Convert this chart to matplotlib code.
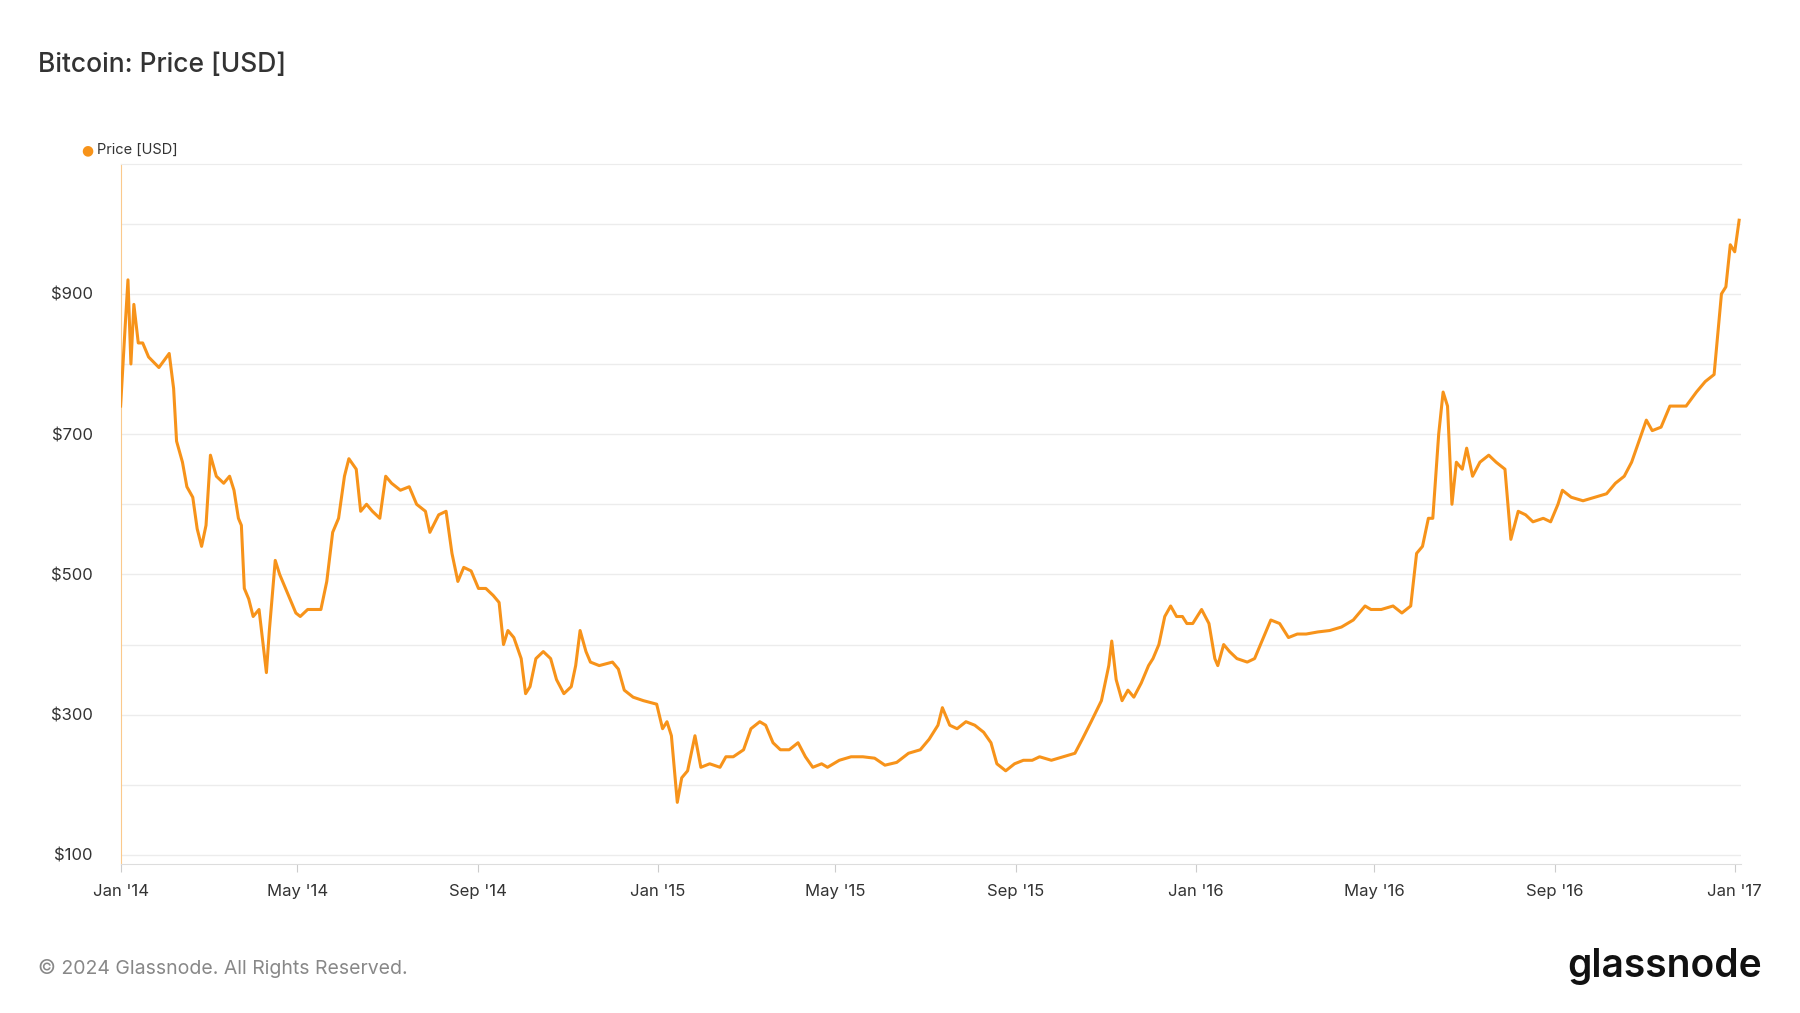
import matplotlib

matplotlib.use("Agg")
import matplotlib.pyplot as plt
import matplotlib.dates as mdates
import pandas as pd

plt.rcParams["font.family"] = ["Inter", "DejaVu Sans"]

dates = [
    "2014-01-01", "2014-01-04", "2014-01-06", "2014-01-08", "2014-01-10", "2014-01-13",
    "2014-01-16", "2014-01-20", "2014-01-27", "2014-02-03", "2014-02-06", "2014-02-08",
    "2014-02-12", "2014-02-15", "2014-02-19", "2014-02-22", "2014-02-25", "2014-02-28",
    "2014-03-03", "2014-03-07", "2014-03-12", "2014-03-16", "2014-03-19", "2014-03-22",
    "2014-03-24", "2014-03-26", "2014-03-29", "2014-04-01", "2014-04-05", "2014-04-10",
    "2014-04-12", "2014-04-16", "2014-04-19", "2014-04-25", "2014-04-30", "2014-05-03",
    "2014-05-08", "2014-05-17", "2014-05-21", "2014-05-25", "2014-05-29", "2014-06-02",
    "2014-06-05", "2014-06-10", "2014-06-13", "2014-06-17", "2014-06-21", "2014-06-26",
    "2014-06-30", "2014-07-04", "2014-07-10", "2014-07-16", "2014-07-21", "2014-07-27",
    "2014-07-30", "2014-08-05", "2014-08-10", "2014-08-14", "2014-08-18", "2014-08-22",
    "2014-08-27", "2014-09-01", "2014-09-06", "2014-09-11", "2014-09-15", "2014-09-18",
    "2014-09-21", "2014-09-25", "2014-09-30", "2014-10-03", "2014-10-06", "2014-10-10",
    "2014-10-15", "2014-10-20", "2014-10-24", "2014-10-29", "2014-11-03", "2014-11-06",
    "2014-11-09", "2014-11-13", "2014-11-16", "2014-11-22", "2014-12-01", "2014-12-05",
    "2014-12-09", "2014-12-15", "2014-12-22", "2014-12-31", "2015-01-04", "2015-01-07",
    "2015-01-10", "2015-01-14", "2015-01-17", "2015-01-21", "2015-01-26", "2015-01-30",
    "2015-02-05", "2015-02-12", "2015-02-16", "2015-02-21", "2015-02-28", "2015-03-05",
    "2015-03-11", "2015-03-15", "2015-03-20", "2015-03-25", "2015-03-31", "2015-04-06",
    "2015-04-11", "2015-04-16", "2015-04-22", "2015-04-26", "2015-05-04", "2015-05-12",
    "2015-05-20", "2015-05-28", "2015-06-04", "2015-06-12", "2015-06-20", "2015-06-28",
    "2015-07-04", "2015-07-10", "2015-07-13", "2015-07-18", "2015-07-23", "2015-07-29",
    "2015-08-04", "2015-08-10", "2015-08-15", "2015-08-19", "2015-08-25", "2015-08-31",
    "2015-09-06", "2015-09-12", "2015-09-17", "2015-09-25", "2015-10-03", "2015-10-11",
    "2015-10-16", "2015-10-22", "2015-10-29", "2015-11-03", "2015-11-05", "2015-11-08",
    "2015-11-12", "2015-11-16", "2015-11-20", "2015-11-25", "2015-11-30", "2015-12-03",
    "2015-12-07", "2015-12-11", "2015-12-15", "2015-12-19", "2015-12-23", "2015-12-26",
    "2015-12-30", "2016-01-05", "2016-01-10", "2016-01-14", "2016-01-16", "2016-01-20",
    "2016-01-24", "2016-01-29", "2016-02-05", "2016-02-10", "2016-02-14", "2016-02-18",
    "2016-02-21", "2016-02-27", "2016-03-04", "2016-03-10", "2016-03-16", "2016-03-24",
    "2016-04-01", "2016-04-09", "2016-04-17", "2016-04-25", "2016-04-29", "2016-05-06",
    "2016-05-14", "2016-05-20", "2016-05-26", "2016-05-30", "2016-06-03", "2016-06-07",
    "2016-06-10", "2016-06-14", "2016-06-17", "2016-06-20", "2016-06-23", "2016-06-26",
    "2016-06-30", "2016-07-03", "2016-07-07", "2016-07-12", "2016-07-18", "2016-07-23",
    "2016-07-29", "2016-08-02", "2016-08-07", "2016-08-12", "2016-08-17", "2016-08-24",
    "2016-08-29", "2016-09-03", "2016-09-06", "2016-09-12", "2016-09-20", "2016-09-28",
    "2016-10-06", "2016-10-12", "2016-10-18", "2016-10-23", "2016-10-28", "2016-11-02",
    "2016-11-06", "2016-11-12", "2016-11-18", "2016-11-23", "2016-11-29", "2016-12-06",
    "2016-12-12", "2016-12-18", "2016-12-23", "2016-12-26", "2016-12-29", "2017-01-01",
    "2017-01-04",
]
prices = [
    740, 850, 920, 800, 885, 830,
    830, 810, 795, 815, 765, 690,
    660, 625, 610, 565, 540, 570,
    670, 640, 630, 640, 620, 580,
    570, 480, 465, 440, 450, 360,
    420, 520, 500, 470, 445, 440,
    450, 450, 490, 560, 580, 640,
    665, 650, 590, 600, 590, 580,
    640, 630, 620, 625, 600, 590,
    560, 585, 590, 530, 490, 510,
    505, 480, 480, 470, 460, 400,
    420, 410, 380, 330, 340, 380,
    390, 380, 350, 330, 340, 370,
    420, 390, 375, 370, 375, 365,
    335, 325, 320, 315, 280, 290,
    270, 175, 210, 220, 270, 225,
    230, 225, 240, 240, 250, 280,
    290, 285, 260, 250, 250, 260,
    240, 225, 230, 225, 235, 240,
    240, 238, 228, 232, 245, 250,
    265, 285, 310, 285, 280, 290,
    285, 275, 260, 230, 220, 230,
    235, 235, 240, 235, 240, 245,
    265, 290, 320, 370, 405, 350,
    320, 335, 325, 345, 370, 380,
    400, 440, 455, 440, 440, 430,
    430, 450, 430, 380, 370, 400,
    390, 380, 375, 380, 400, 420,
    435, 430, 410, 415, 415, 418,
    420, 425, 435, 455, 450, 450,
    455, 445, 455, 530, 540, 580,
    580, 700, 760, 740, 600, 660,
    650, 680, 640, 660, 670, 660,
    650, 550, 590, 585, 575, 580,
    575, 600, 620, 610, 605, 610,
    615, 630, 640, 660, 690, 720,
    705, 710, 740, 740, 740, 760,
    775, 785, 900, 910, 970, 960,
    1005,
]
y_ticks = [100, 300, 500, 700, 900]
y_grid = [100, 200, 300, 400, 500, 600, 700, 800, 900, 1000]
x_ticks = ["2014-01-01", "2014-05-01", "2014-09-01", "2015-01-01", "2015-05-01",
           "2015-09-01", "2016-01-01", "2016-05-01", "2016-09-01", "2017-01-01"]

ORANGE = "#F7931A"
series = pd.Series(prices, index=pd.to_datetime(dates))

fig = plt.figure(figsize=(18, 10.13), dpi=100)
ax = fig.add_axes([0.067, 0.147, 0.9, 0.691])
for g in y_grid:
    ax.axhline(g, color="#ececec", lw=1, zorder=0)
ax.plot(series.index, series.values, color=ORANGE, lw=2.2, zorder=3)

ax.set_xlim(pd.Timestamp("2014-01-01"), pd.Timestamp("2017-01-05"))
ax.set_ylim(87, 1085)
ax.set_yticks(y_ticks)
ax.set_yticklabels([f"${v}" for v in y_ticks])
ax.set_xticks(pd.to_datetime(x_ticks))
ax.xaxis.set_major_formatter(mdates.DateFormatter("%b '%y"))
ax.tick_params(axis="y", length=0, labelsize=12, colors="#333333", pad=20)
ax.tick_params(axis="x", length=6, color="#cccccc", labelsize=12, colors="#333333", pad=8)
ax.spines["right"].set_visible(False)
ax.spines["top"].set_color("#ececec")
ax.spines["left"].set_color("#fbc98c")
ax.spines["bottom"].set_color("#dddddd")

fig.text(0.021, 0.936, "Bitcoin: Price [USD]", fontsize=19, color="#333333",
         va="center", fontweight="medium")
fig.text(0.045, 0.852, "●", fontsize=10, color=ORANGE, va="center",
         family=["DejaVu Sans"])
fig.text(0.054, 0.852, "Price [USD]", fontsize=10.5, color="#333333", va="center")
fig.text(0.021, 0.044, "© 2024 Glassnode. All Rights Reserved.", fontsize=14,
         color="#888888", va="center")
fig.text(0.979, 0.046, "glassnode", fontsize=28, color="#111111", va="center",
         ha="right", fontweight="semibold")

fig.savefig("out.png", dpi=100, facecolor="white")
